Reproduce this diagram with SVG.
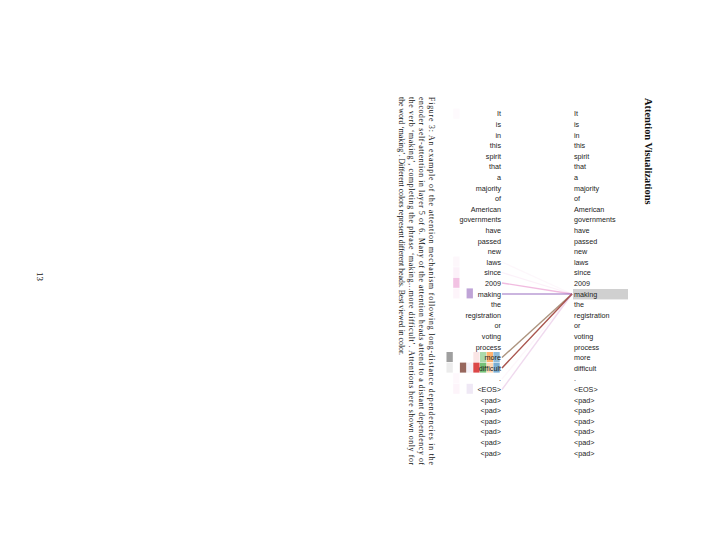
<svg xmlns="http://www.w3.org/2000/svg" width="720" height="557" viewBox="0 0 720 557">
<style>
.w{font-family:"Liberation Sans",Arial,sans-serif;font-size:7.2px;fill:#222}
.l{text-anchor:end}
.cap{font-family:"Liberation Serif","Times New Roman",serif;font-size:7.8px;fill:#111}
.ttl{font-family:"Liberation Serif","Times New Roman",serif;font-size:10.4px;font-weight:bold;fill:#111}
.pg{font-family:"Liberation Serif","Times New Roman",serif;font-size:9px;fill:#111}
.c0{fill:#7f7f7f}.c1{fill:#e377c2}.c2{fill:#8c564b}.c3{fill:#9467bd}.c4{fill:#d62728}.c5{fill:#2ca02c}.c6{fill:#ff7f0e}.c7{fill:#1f77b4}
#connectors line{stroke-width:1.3;fill:none}
</style>
<rect width="720" height="557" fill="#fff"/>
<g id="title"><text class="ttl" transform="translate(644.5,98) rotate(90)">Attention Visualizations</text></g>
<g id="highlight"><rect x="573" y="289" width="55" height="10.4" fill="#d0d0d0"/></g>
<g id="heads">
<rect class="c1" x="453.2" y="108.7" width="6.3" height="10" opacity="0.04"/>
<rect class="c1" x="453.2" y="256.6" width="6.3" height="10" opacity="0.06"/>
<rect class="c1" x="453.2" y="267.2" width="6.3" height="10" opacity="0.1"/>
<rect class="c1" x="453.2" y="277.8" width="6.3" height="10" opacity="0.45"/>
<rect class="c1" x="453.2" y="288.4" width="6.3" height="10" opacity="0.08"/>
<rect class="c3" x="466.6" y="288.4" width="6.3" height="10" opacity="0.6"/>
<rect class="c0" x="446.5" y="352" width="6.3" height="10" opacity="0.75"/>
<rect class="c4" x="473.3" y="352" width="6.3" height="10" opacity="0.12"/>
<rect class="c5" x="480" y="352" width="6.3" height="10" opacity="0.4"/>
<rect class="c6" x="486.7" y="352" width="6.3" height="10" opacity="0.6"/>
<rect class="c7" x="493.4" y="352" width="6.3" height="10" opacity="0.5"/>
<rect class="c0" x="446.5" y="362.6" width="6.3" height="10" opacity="0.15"/>
<rect class="c2" x="459.9" y="362.6" width="6.3" height="10" opacity="0.9"/>
<rect class="c3" x="466.6" y="362.6" width="6.3" height="10" opacity="0.1"/>
<rect class="c4" x="473.3" y="362.6" width="6.3" height="10" opacity="0.85"/>
<rect class="c5" x="480" y="362.6" width="6.3" height="10" opacity="0.65"/>
<rect class="c6" x="486.7" y="362.6" width="6.3" height="10" opacity="0.3"/>
<rect class="c7" x="493.4" y="362.6" width="6.3" height="10" opacity="0.6"/>
<rect class="c1" x="453.2" y="373.2" width="6.3" height="10" opacity="0.05"/>
<rect class="c1" x="453.2" y="383.8" width="6.3" height="10" opacity="0.08"/>
<rect class="c3" x="466.6" y="383.8" width="6.3" height="10" opacity="0.15"/>
</g>
<g id="connectors">
<line x1="502" y1="262" x2="572" y2="294" stroke="#e377c2" stroke-opacity="0.06"/>
<line x1="502" y1="272.5" x2="572" y2="294" stroke="#e377c2" stroke-opacity="0.1"/>
<line x1="502" y1="283" x2="572" y2="294" stroke="#e377c2" stroke-opacity="0.5"/>
<line x1="502" y1="294" x2="572" y2="294" stroke="#9467bd" stroke-opacity="0.65"/>
<line x1="502" y1="357.5" x2="572" y2="294" stroke="#7f7f7f" stroke-opacity="0.8"/>
<line x1="502" y1="357.5" x2="572" y2="294" stroke="#ff7f0e" stroke-opacity="0.2"/>
<line x1="502" y1="368" x2="572" y2="294" stroke="#8c564b" stroke-opacity="0.9"/>
<line x1="502" y1="368" x2="572" y2="294" stroke="#d62728" stroke-opacity="0.3"/>
<line x1="502" y1="379" x2="572" y2="294" stroke="#e377c2" stroke-opacity="0.06"/>
<line x1="502" y1="389.5" x2="572" y2="294" stroke="#e377c2" stroke-opacity="0.18"/>
<line x1="502" y1="389.5" x2="572" y2="294" stroke="#9467bd" stroke-opacity="0.1"/>
</g>
<g id="left-words" class="w l">
<text x="501" y="116.3">It</text>
<text x="501" y="126.9">is</text>
<text x="501" y="137.5">in</text>
<text x="501" y="148.1">this</text>
<text x="501" y="158.7">spirit</text>
<text x="501" y="169.3">that</text>
<text x="501" y="179.9">a</text>
<text x="501" y="190.5">majority</text>
<text x="501" y="201.1">of</text>
<text x="501" y="211.7">American</text>
<text x="501" y="222.3">governments</text>
<text x="501" y="232.9">have</text>
<text x="501" y="243.5">passed</text>
<text x="501" y="254.1">new</text>
<text x="501" y="264.7">laws</text>
<text x="501" y="275.3">since</text>
<text x="501" y="285.9">2009</text>
<text x="501" y="296.5">making</text>
<text x="501" y="307.1">the</text>
<text x="501" y="317.7">registration</text>
<text x="501" y="328.3">or</text>
<text x="501" y="338.9">voting</text>
<text x="501" y="349.5">process</text>
<text x="501" y="360.1">more</text>
<text x="501" y="370.7">difficult</text>
<text x="501" y="381.3">.</text>
<text x="501" y="391.9">&lt;EOS&gt;</text>
<text x="501" y="402.5">&lt;pad&gt;</text>
<text x="501" y="413.1">&lt;pad&gt;</text>
<text x="501" y="423.7">&lt;pad&gt;</text>
<text x="501" y="434.3">&lt;pad&gt;</text>
<text x="501" y="444.9">&lt;pad&gt;</text>
<text x="501" y="455.5">&lt;pad&gt;</text>
</g>
<g id="right-words" class="w">
<text x="574" y="116.3">It</text>
<text x="574" y="126.9">is</text>
<text x="574" y="137.5">in</text>
<text x="574" y="148.1">this</text>
<text x="574" y="158.7">spirit</text>
<text x="574" y="169.3">that</text>
<text x="574" y="179.9">a</text>
<text x="574" y="190.5">majority</text>
<text x="574" y="201.1">of</text>
<text x="574" y="211.7">American</text>
<text x="574" y="222.3">governments</text>
<text x="574" y="232.9">have</text>
<text x="574" y="243.5">passed</text>
<text x="574" y="254.1">new</text>
<text x="574" y="264.7">laws</text>
<text x="574" y="275.3">since</text>
<text x="574" y="285.9">2009</text>
<text x="574" y="296.5">making</text>
<text x="574" y="307.1">the</text>
<text x="574" y="317.7">registration</text>
<text x="574" y="328.3">or</text>
<text x="574" y="338.9">voting</text>
<text x="574" y="349.5">process</text>
<text x="574" y="360.1">more</text>
<text x="574" y="370.7">difficult</text>
<text x="574" y="381.3">.</text>
<text x="574" y="391.9">&lt;EOS&gt;</text>
<text x="574" y="402.5">&lt;pad&gt;</text>
<text x="574" y="413.1">&lt;pad&gt;</text>
<text x="574" y="423.7">&lt;pad&gt;</text>
<text x="574" y="434.3">&lt;pad&gt;</text>
<text x="574" y="444.9">&lt;pad&gt;</text>
<text x="574" y="455.5">&lt;pad&gt;</text>
</g>
<g id="caption" class="cap">
<text transform="translate(428.5,97) rotate(90)" textLength="368" lengthAdjust="spacing">Figure 3: An example of the attention mechanism following long-distance dependencies in the</text>
<text transform="translate(418.5,97) rotate(90)" textLength="368" lengthAdjust="spacing">encoder self-attention in layer 5 of 6. Many of the attention heads attend to a distant dependency of</text>
<text transform="translate(408.5,97) rotate(90)" textLength="368" lengthAdjust="spacing">the verb ‘making’, completing the phrase ‘making...more difficult’. Attentions here shown only for</text>
<text transform="translate(398.5,97) rotate(90)" textLength="258" lengthAdjust="spacing">the word ‘making’. Different colors represent different heads. Best viewed in color.</text>
</g>
<g id="page-number"><text class="pg" transform="translate(37,272) rotate(90)">13</text></g>
</svg>
